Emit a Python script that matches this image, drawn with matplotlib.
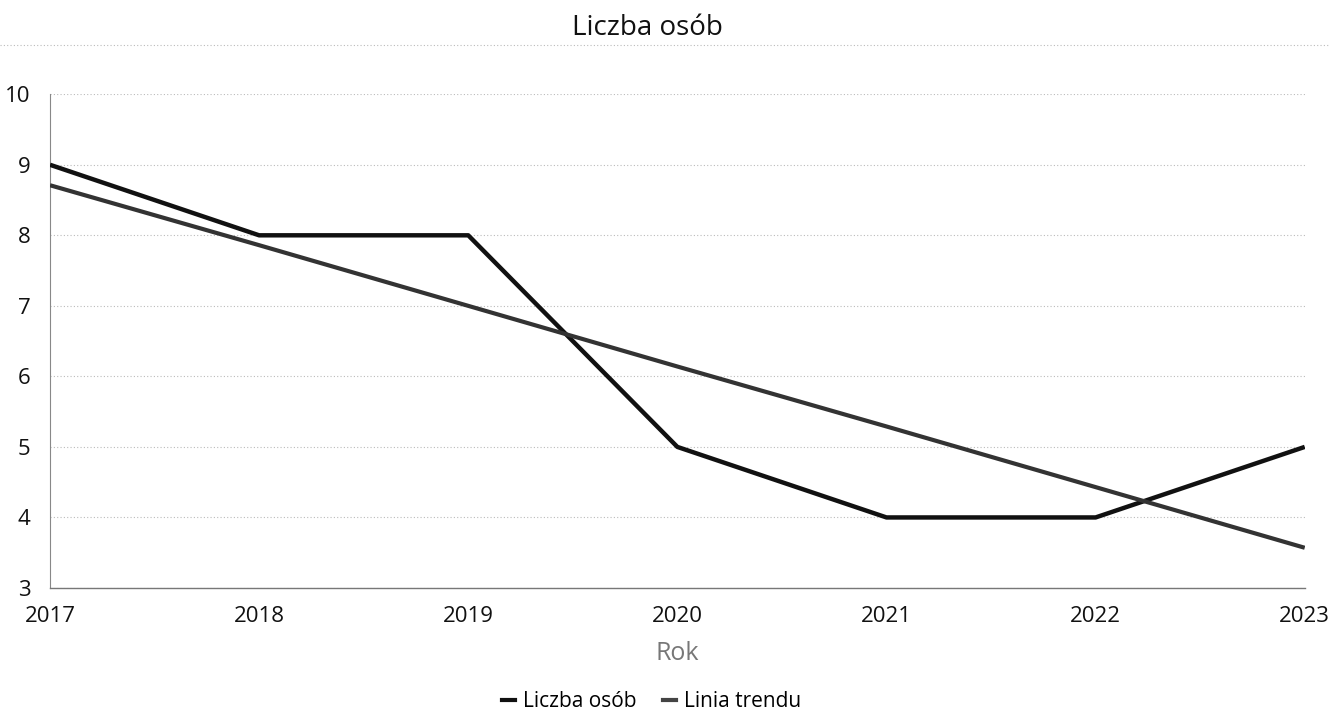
import matplotlib
matplotlib.use("Agg")
import matplotlib.pyplot as plt
from matplotlib.lines import Line2D

years = [2017, 2018, 2019, 2020, 2021, 2022, 2023]
liczba_osob = [9, 8, 8, 5, 4, 4, 5]
linia_trendu = [8.71, 7.86, 7.00, 6.14, 5.29, 4.43, 3.57]
y_ticks = [3, 4, 5, 6, 7, 8, 9, 10]

plt.rcParams['font.family'] = ['Open Sans', 'DejaVu Sans']

fig = plt.figure(figsize=(13.3, 7.14), dpi=100)
ax = fig.add_axes([0.0376, 0.1765, 0.9434, 0.6915])

ax.plot(years, liczba_osob, color='#111111', lw=3.2, solid_capstyle='butt', zorder=3)
ax.plot(years, linia_trendu, color='#333333', lw=3.0, solid_capstyle='butt', zorder=3)

ax.set_xlim(2017, 2023)
ax.set_ylim(3, 10)
ax.set_xticks(years)
ax.set_yticks(y_ticks)
ax.tick_params(axis='both', length=0, labelsize=16, colors='#111111')
ax.tick_params(axis='x', pad=13)
ax.tick_params(axis='y', pad=14)
ax.grid(axis='y', color='#bbbbbb', lw=0.8, ls=(0, (1, 2)))
for s in ['top', 'right']:
    ax.spines[s].set_visible(False)
ax.spines['left'].set_color('#888888')
ax.spines['left'].set_linestyle((0, (1, 1)))
ax.spines['left'].set_linewidth(0.8)
ax.spines['bottom'].set_color('#777777')
ax.spines['bottom'].set_linewidth(1.0)

ax.set_xlabel('Rok', fontsize=18, color='#777777', labelpad=10)

fig.text(0.487, 0.961, 'Liczba osób', ha='center', va='center', fontsize=20, color='#111111')
fig.add_artist(Line2D([0.0, 1.0], [0.937, 0.937], transform=fig.transFigure,
                      color='#bbbbbb', lw=0.8, ls=(0, (1, 2))))

handles = [Line2D([], [], color='#111111', lw=3), Line2D([], [], color='#444444', lw=3)]
fig.legend(handles, ['Liczba osób', 'Linia trendu'], loc='center', bbox_to_anchor=(0.49, 0.017),
           ncol=2, frameon=False, fontsize=15, handlelength=0.6, handletextpad=0.4,
           columnspacing=1.3)

fig.savefig('out.png', dpi=100, facecolor='white')
